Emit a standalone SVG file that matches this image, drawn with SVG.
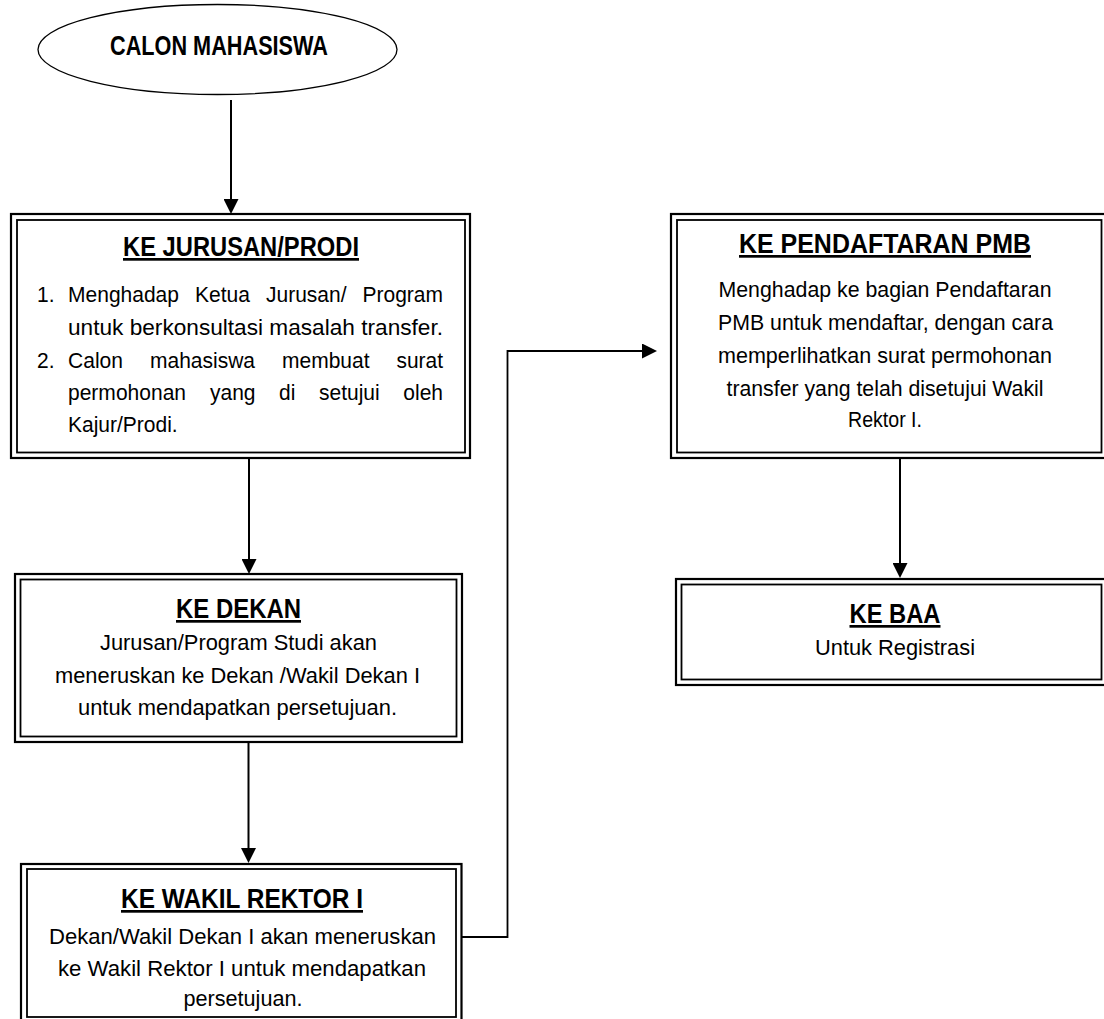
<svg xmlns="http://www.w3.org/2000/svg" width="1104" height="1019" viewBox="0 0 1104 1019">
<defs>
<style>
.bg{fill:#fff}
.o{fill:none;stroke:#000;stroke-width:2.2}
.i{fill:none;stroke:#000;stroke-width:1.8}
.t{font-family:"Liberation Sans Narrow","Arial Narrow","Liberation Sans",Arial,sans-serif;font-weight:bold;font-size:27px;fill:#000;text-decoration:underline}
.b{font-family:"Liberation Sans Narrow","Arial Narrow","Liberation Sans",Arial,sans-serif;font-size:22.5px;fill:#000}
.c{fill:none;stroke:#000;stroke-width:2}
.e{fill:none;stroke:#000;stroke-width:1.8}
</style>
<marker id="ah" markerWidth="15" markerHeight="15" refX="7" refY="7.5" orient="auto" markerUnits="userSpaceOnUse">
<path d="M0,0 L15,7.5 L0,15 z" fill="#000"/>
</marker>
</defs>
<rect class="bg" x="0" y="0" width="1104" height="1019"/>

<g id="connectors">
<line class="c" x1="231" y1="100" x2="231" y2="206" marker-end="url(#ah)"/>
<line class="c" x1="249" y1="458" x2="249" y2="566" marker-end="url(#ah)"/>
<line class="c" x1="248.5" y1="742" x2="248.5" y2="855" marker-end="url(#ah)"/>
<path class="e" d="M461.5,937 H507.5 V351 H649" marker-end="url(#ah)"/>
<line class="c" x1="900" y1="458" x2="900" y2="570" marker-end="url(#ah)"/>
</g>

<g id="calon-mahasiswa">
<ellipse cx="217.5" cy="49.5" rx="179.5" ry="45" fill="#fff" stroke="#000" stroke-width="1.3"/>
<text x="110" y="55" textLength="218" lengthAdjust="spacingAndGlyphs" style="font-family:'Liberation Sans Narrow','Arial Narrow','Liberation Sans',Arial,sans-serif;font-weight:bold;font-size:27px;fill:#000">CALON MAHASISWA</text>
</g>

<g id="ke-jurusan">
<rect class="o" x="11" y="214" width="459" height="244"/>
<rect class="i" x="17" y="220" width="448" height="232.5"/>
<text class="t" x="123" y="256" textLength="236" lengthAdjust="spacingAndGlyphs">KE JURUSAN/PRODI</text>
<text class="b" x="37" y="302" textLength="17.5" lengthAdjust="spacingAndGlyphs">1.</text>
<text class="b" x="68" y="302" textLength="111" lengthAdjust="spacingAndGlyphs">Menghadap</text>
<text class="b" x="195" y="302" textLength="55" lengthAdjust="spacingAndGlyphs">Ketua</text>
<text class="b" x="266" y="302" textLength="80.5" lengthAdjust="spacingAndGlyphs">Jurusan/</text>
<text class="b" x="362.5" y="302" textLength="80.5" lengthAdjust="spacingAndGlyphs">Program</text>
<text class="b" x="68" y="335" textLength="375" lengthAdjust="spacingAndGlyphs">untuk berkonsultasi masalah transfer.</text>
<text class="b" x="37" y="368" textLength="17.5" lengthAdjust="spacingAndGlyphs">2.</text>
<text class="b" x="68" y="368" textLength="55" lengthAdjust="spacingAndGlyphs">Calon</text>
<text class="b" x="150" y="368" textLength="105" lengthAdjust="spacingAndGlyphs">mahasiswa</text>
<text class="b" x="282" y="368" textLength="87.5" lengthAdjust="spacingAndGlyphs">membuat</text>
<text class="b" x="396.5" y="368" textLength="46.5" lengthAdjust="spacingAndGlyphs">surat</text>
<text class="b" x="68" y="400" textLength="118" lengthAdjust="spacingAndGlyphs">permohonan</text>
<text class="b" x="210" y="400" textLength="45.5" lengthAdjust="spacingAndGlyphs">yang</text>
<text class="b" x="279" y="400" textLength="16.3" lengthAdjust="spacingAndGlyphs">di</text>
<text class="b" x="319" y="400" textLength="60.7" lengthAdjust="spacingAndGlyphs">setujui</text>
<text class="b" x="403.3" y="400" textLength="39.7" lengthAdjust="spacingAndGlyphs">oleh</text>
<text class="b" x="68" y="432" textLength="109.7" lengthAdjust="spacingAndGlyphs">Kajur/Prodi.</text>
</g>

<g id="ke-dekan">
<rect class="o" x="15" y="574" width="447" height="168"/>
<rect class="i" x="20.5" y="579.5" width="436" height="157"/>
<text class="t" x="176" y="618" textLength="125" lengthAdjust="spacingAndGlyphs">KE DEKAN</text>
<text class="b" x="100" y="650" textLength="277" lengthAdjust="spacingAndGlyphs">Jurusan/Program Studi akan</text>
<text class="b" x="55" y="683" textLength="365" lengthAdjust="spacingAndGlyphs">meneruskan ke Dekan /Wakil Dekan I</text>
<text class="b" x="78" y="715" textLength="319" lengthAdjust="spacingAndGlyphs">untuk mendapatkan persetujuan.</text>
</g>

<g id="ke-wakil-rektor">
<rect class="o" x="21" y="864" width="440.5" height="159"/>
<rect class="i" x="27" y="869" width="429" height="148"/>
<text class="t" x="121" y="908" textLength="242" lengthAdjust="spacingAndGlyphs">KE WAKIL REKTOR I</text>
<text class="b" x="49" y="944" textLength="387" lengthAdjust="spacingAndGlyphs">Dekan/Wakil Dekan I akan meneruskan</text>
<text class="b" x="58" y="976" textLength="368" lengthAdjust="spacingAndGlyphs">ke Wakil Rektor I untuk mendapatkan</text>
<text class="b" x="183.5" y="1006" textLength="119" lengthAdjust="spacingAndGlyphs">persetujuan.</text>
</g>

<g id="ke-pendaftaran-pmb">
<rect class="o" x="671" y="214" width="436" height="244"/>
<rect class="i" x="677" y="220" width="424.5" height="232.5"/>
<text class="t" x="739" y="253" textLength="292" lengthAdjust="spacingAndGlyphs">KE PENDAFTARAN PMB</text>
<text class="b" x="718.5" y="297" textLength="333" lengthAdjust="spacingAndGlyphs">Menghadap ke bagian Pendaftaran</text>
<text class="b" x="718" y="330" textLength="335" lengthAdjust="spacingAndGlyphs">PMB untuk mendaftar, dengan cara</text>
<text class="b" x="718" y="363" textLength="334" lengthAdjust="spacingAndGlyphs">memperlihatkan surat permohonan</text>
<text class="b" x="726.5" y="396" textLength="317" lengthAdjust="spacingAndGlyphs">transfer yang telah disetujui Wakil</text>
<text class="b" x="848" y="427" textLength="74" lengthAdjust="spacingAndGlyphs">Rektor I.</text>
</g>

<g id="ke-baa">
<rect class="o" x="676" y="579" width="431" height="106"/>
<rect class="i" x="681.5" y="584.5" width="420" height="95"/>
<text class="t" x="849.5" y="623" textLength="91" lengthAdjust="spacingAndGlyphs">KE BAA</text>
<text class="b" x="815" y="655" textLength="160" lengthAdjust="spacingAndGlyphs">Untuk Registrasi</text>
</g>
</svg>
